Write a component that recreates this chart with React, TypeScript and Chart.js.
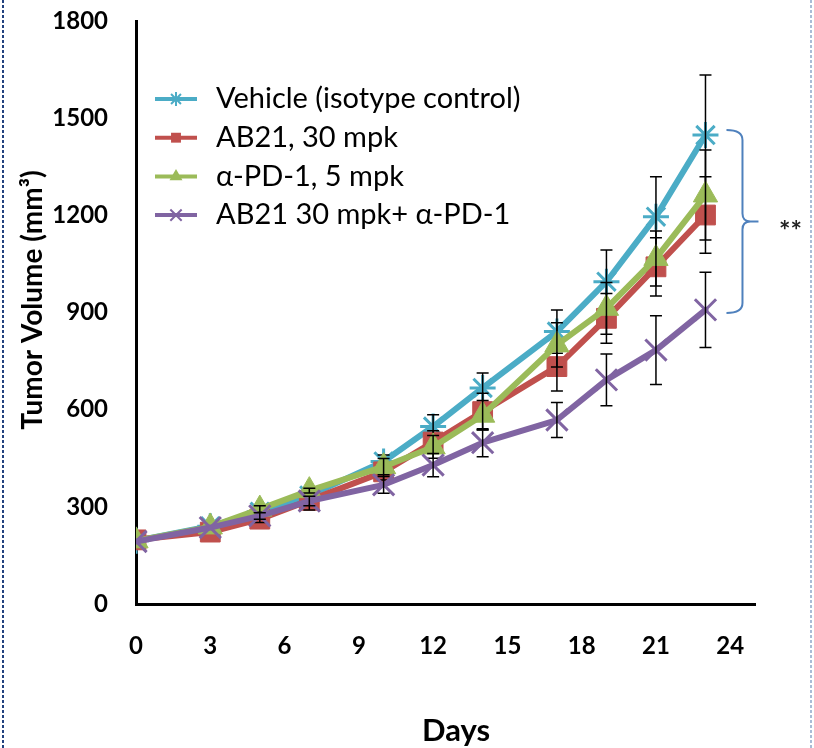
import React, { useEffect, useRef } from 'react';
import { Chart, registerables } from 'chart.js';

Chart.register(...registerables);

// ---- data ----
const days = [0, 3, 5, 7, 10, 12, 14, 17, 19, 21, 23];
const seriesNames = ['Vehicle (isotype control)', 'AB21, 30 mpk', 'α-PD-1, 5 mpk', 'AB21 30 mpk+ α-PD-1'];
const vehicle = [195, 240, 285, 335, 440, 548, 667, 841, 995, 1196, 1448];
const ab21 = [198, 222, 262, 320, 408, 500, 594, 733, 882, 1041, 1201];
const pd1 = [195, 238, 293, 350, 424, 485, 583, 800, 913, 1067, 1263];
const combo = [193, 236, 272, 318, 368, 429, 498, 568, 692, 784, 908];
const vehicleErr = [0, 0, 10, 18, 20, 36, 46, 67, 98, 123, 185];
const ab21Err = [0, 0, 10, 30, 25, 35, 57, 75, 77, 90, 118];
const pd1Err = [0, 0, 10, 7, 25, 35, 45, 68, 80, 85, 139];
const comboErr = [0, 0, 10, 15, 26, 36, 43, 54, 80, 106, 116];
const xTicks = [0, 3, 6, 9, 12, 15, 18, 21, 24];
const yTicks = [0, 300, 600, 900, 1200, 1500, 1800];
const xTitle = 'Days';
const yTitle = 'Tumor Volume (mm³)';
const sigLabel = '**';

const seriesValues = [vehicle, ab21, pd1, combo];
const seriesErrors = [vehicleErr, ab21Err, pd1Err, comboErr];
const colors = ['#4BACC6', '#C0504D', '#9BBB59', '#8064A2'];
const markers = ['star', 'rect', 'triangle', 'crossRot'];
const markerRadius = [13, 14, 14, 15];
const legendRadius = [7, 7, 7.5, 8];
const FONT = 'Lato, "Open Sans", sans-serif';

const errorBarPlugin = {
  id: 'errorBars',
  afterDatasetDraw(chart: any, args: any) {
    const i = args.index;
    const vals = seriesValues[i];
    const errs = seriesErrors[i];
    const { ctx } = chart;
    const x = chart.scales.x;
    const y = chart.scales.y;
    ctx.save();
    ctx.strokeStyle = '#000';
    ctx.lineWidth = 1.5;
    days.forEach((d, k) => {
      if (!errs[k]) return;
      const px = x.getPixelForValue(d);
      const top = y.getPixelForValue(vals[k] + errs[k]);
      const bot = y.getPixelForValue(vals[k] - errs[k]);
      ctx.beginPath();
      ctx.moveTo(px, top);
      ctx.lineTo(px, bot);
      ctx.moveTo(px - 6, top);
      ctx.lineTo(px + 6, top);
      ctx.moveTo(px - 6, bot);
      ctx.lineTo(px + 6, bot);
      ctx.stroke();
    });
    ctx.restore();
  },
};

function drawMarker(ctx: CanvasRenderingContext2D, style: string, cx: number, cy: number, r: number, color: string) {
  ctx.save();
  ctx.strokeStyle = color;
  ctx.fillStyle = color;
  ctx.lineWidth = 2;
  ctx.beginPath();
  if (style === 'rect') {
    const s = r * Math.SQRT1_2;
    ctx.rect(cx - s, cy - s, 2 * s, 2 * s);
    ctx.fill();
  } else if (style === 'triangle') {
    ctx.moveTo(cx, cy - r);
    ctx.lineTo(cx + r * Math.sin(Math.PI / 3), cy + r / 2);
    ctx.lineTo(cx - r * Math.sin(Math.PI / 3), cy + r / 2);
    ctx.closePath();
    ctx.fill();
  } else {
    const o = r * Math.SQRT1_2;
    ctx.moveTo(cx - o, cy - o);
    ctx.lineTo(cx + o, cy + o);
    ctx.moveTo(cx - o, cy + o);
    ctx.lineTo(cx + o, cy - o);
    if (style === 'star') {
      ctx.moveTo(cx, cy - r);
      ctx.lineTo(cx, cy + r);
    }
    ctx.stroke();
  }
  ctx.restore();
}

const decorPlugin = {
  id: 'decor',
  afterDraw(chart: any) {
    const { ctx } = chart;
    const x = chart.scales.x;
    const y = chart.scales.y;
    ctx.save();
    // dashed frame edges
    ctx.setLineDash([3, 2]);
    ctx.lineWidth = 2;
    ctx.strokeStyle = '#23427F';
    ctx.beginPath();
    ctx.moveTo(3, 0);
    ctx.lineTo(3, 748);
    ctx.stroke();
    ctx.strokeStyle = '#A9BCD6';
    ctx.beginPath();
    ctx.moveTo(811, 0);
    ctx.lineTo(811, 748);
    ctx.stroke();
    ctx.setLineDash([]);

    // axis titles
    ctx.fillStyle = '#000';
    ctx.font = `bold 28px ${FONT}`;
    ctx.textAlign = 'center';
    ctx.textBaseline = 'middle';
    ctx.save();
    ctx.translate(33, 300);
    ctx.rotate(-Math.PI / 2);
    ctx.fillText(yTitle, 0, 0);
    ctx.restore();
    ctx.font = `bold 31px ${FONT}`;
    ctx.fillText(xTitle, 456, 731);

    // legend
    ctx.font = `29px ${FONT}`;
    ctx.textAlign = 'left';
    seriesNames.forEach((name, i) => {
      const ry = 99 + i * 38.7;
      ctx.strokeStyle = colors[i];
      ctx.lineWidth = 4;
      ctx.beginPath();
      ctx.moveTo(155, ry);
      ctx.lineTo(197, ry);
      ctx.stroke();
      drawMarker(ctx, markers[i], 176, ry, legendRadius[i], colors[i]);
      ctx.fillStyle = '#000';
      ctx.fillText(name, 216, ry);
    });

    // significance bracket
    const last = days.length - 1;
    const lx = x.getPixelForValue(days[last]);
    const yTop = y.getPixelForValue(vehicle[last]) - 5;
    const yBot = y.getPixelForValue(combo[last]) + 3;
    const yMid = (yTop + yBot) / 2;
    const bx0 = lx + 21;
    const bx1 = lx + 37;
    const bx2 = lx + 53;
    ctx.strokeStyle = '#4F81BD';
    ctx.lineWidth = 2;
    ctx.beginPath();
    ctx.moveTo(bx0, yTop);
    ctx.quadraticCurveTo(bx1, yTop, bx1, yTop + 10);
    ctx.lineTo(bx1, yMid - 8);
    ctx.quadraticCurveTo(bx1, yMid, bx1 + 8, yMid);
    ctx.lineTo(bx2, yMid);
    ctx.moveTo(bx1 + 8, yMid);
    ctx.quadraticCurveTo(bx1, yMid, bx1, yMid + 8);
    ctx.lineTo(bx1, yBot - 10);
    ctx.quadraticCurveTo(bx1, yBot, bx0, yBot);
    ctx.stroke();
    ctx.fillStyle = '#222';
    ctx.font = `bold 27px ${FONT}`;
    ctx.textAlign = 'center';
    ctx.textBaseline = 'alphabetic';
    ctx.fillText(sigLabel, lx + 85, yMid + 19);
    ctx.restore();
  },
};

export default function App() {
  const ref = useRef<HTMLCanvasElement | null>(null);

  useEffect(() => {
    if (!ref.current) return;
    const datasets = seriesNames.map((name, i) => ({
      label: name,
      data: days.map((d, k) => ({ x: d, y: seriesValues[i][k] })),
      borderColor: colors[i],
      backgroundColor: colors[i],
      borderWidth: 6,
      borderJoinStyle: 'round' as const,
      borderCapStyle: 'round' as const,
      tension: 0,
      pointStyle: markers[i],
      pointRadius: markerRadius[i],
      pointBorderWidth: markers[i] === 'rect' || markers[i] === 'triangle' ? 1 : 3,
      pointBorderColor: colors[i],
      pointBackgroundColor: colors[i],
      order: seriesNames.length - 1 - i,
    }));

    const tickFont = { family: FONT, size: 24, weight: 'bold' as const };

    const chart = new Chart(ref.current, {
      type: 'line',
      data: { datasets },
      options: {
        animation: false,
        responsive: false,
        devicePixelRatio: 1,
        layout: { autoPadding: false, padding: { left: 0, right: 59, top: 21, bottom: 0 } },
        plugins: { legend: { display: false }, tooltip: { enabled: false }, title: { display: false } },
        scales: {
          x: {
            type: 'linear',
            min: 0,
            max: 25,
            grid: { display: false, drawTicks: false },
            border: { display: true, color: '#000', width: 3 },
            ticks: { font: tickFont, color: '#000', padding: 28, maxRotation: 0, callback: (v: any) => String(v) },
            afterBuildTicks: (s: any) => {
              s.ticks = xTicks.map((v) => ({ value: v }));
            },
            afterFit: (s: any) => {
              s.height = 144;
              s.paddingLeft = 0;
              s.paddingRight = 0;
            },
          },
          y: {
            type: 'linear',
            min: 0,
            max: 1800,
            grid: { display: false, drawTicks: false },
            border: { display: true, color: '#000', width: 3 },
            ticks: { font: tickFont, color: '#000', padding: 28, callback: (v: any) => String(v) },
            afterBuildTicks: (s: any) => {
              s.ticks = yTicks.map((v) => ({ value: v }));
            },
            afterFit: (s: any) => {
              s.width = 136;
              s.paddingTop = 0;
              s.paddingBottom = 0;
            },
          },
        },
      },
      plugins: [errorBarPlugin, decorPlugin],
    });
    return () => chart.destroy();
  }, []);

  return (
    <div style={{ position: 'absolute', left: 0, top: 0, width: 814, height: 748, background: '#fff' }}>
      <canvas ref={ref} width={814} height={748} style={{ display: 'block', width: 814, height: 748 }} />
    </div>
  );
}
